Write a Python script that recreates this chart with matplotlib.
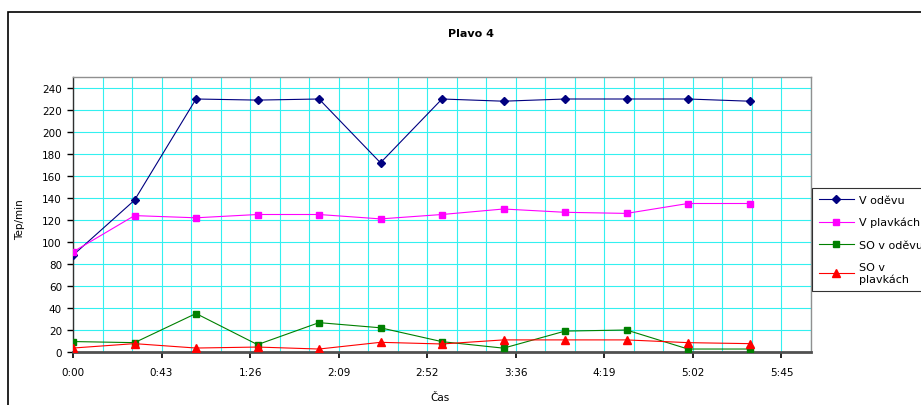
import matplotlib.pyplot as plt
from matplotlib.patches import Rectangle
from matplotlib.ticker import FuncFormatter

# time of each measurement, seconds
cas = [0, 30, 60, 90, 120, 150, 180, 210, 240, 270, 300, 330]
v_odevu = [88, 138, 230, 229, 230, 172, 230, 228, 230, 230, 230, 228]
v_plavkach = [91, 124, 122, 125, 125, 121, 125, 130, 127, 126, 135, 135]
so_v_odevu = [9.5, 8.5, 35, 6.7, 26.7, 22, 9.4, 3.5, 19, 20, 2.7, 2.7]
so_v_plavkach = [3.6, 7.6, 3.6, 4.5, 2.7, 8.8, 7.3, 11, 11, 11, 8.5, 7.6]

series = [
    ("V oděvu", v_odevu, "#000080", "D", 4),
    ("V plavkách", v_plavkach, "#FF00FF", "s", 5),
    ("SO v oděvu", so_v_odevu, "#008000", "s", 5),
    ("SO v\nplavkách", so_v_plavkach, "#FF0000", "^", 6),
]

# Excel-style time axis: major unit 43.2 s, minor unit 14.4 s
major_x = [43.2 * i for i in range(9)]
minor_x = [14.4 * i for i in range(26)]

plt.rcParams["font.family"] = ["DejaVu Sans"]

fig = plt.figure(figsize=(9.21, 4.06), dpi=100)
fig.patches.append(Rectangle((8 / 921, -0.1), 1.2, (406 - 13) / 406 + 0.1,
                             transform=fig.transFigure, fill=False,
                             edgecolor="black", linewidth=1.2))

ax = fig.add_axes([73 / 921, 53 / 406, 738 / 921, 275 / 406])

for label, values, color, marker, size in series:
    ax.plot(cas, values, color=color, marker=marker, markersize=size,
            linewidth=0.8, label=label, zorder=3)

ax.set_xlim(0, 360)
ax.set_ylim(0, 250)
ax.set_xticks(major_x)
ax.set_xticks(minor_x, minor=True)
ax.xaxis.set_major_formatter(FuncFormatter(
    lambda s, pos: "%d:%02d" % (int(s + 1e-6) // 60, int(s + 1e-6) % 60)))
ax.set_yticks(range(0, 241, 20))

ax.grid(True, which="both", axis="x", color="#33F0F0", linewidth=0.8)
ax.grid(True, which="major", axis="y", color="#33F0F0", linewidth=0.8)
ax.set_axisbelow(True)

ax.tick_params(axis="y", which="major", labelsize=7.5, length=4,
               width=1, color="black", direction="out", pad=4)
ax.tick_params(axis="x", which="major", labelsize=7.5, length=4,
               width=1.2, color="black", direction="out", pad=7)
ax.tick_params(axis="x", which="minor", length=0)

for side in ("top", "right"):
    ax.spines[side].set_color("#909090")
    ax.spines[side].set_linewidth(1)
ax.spines["bottom"].set_color("#505050")
ax.spines["bottom"].set_linewidth(2)
ax.spines["left"].set_color("#303030")
ax.spines["left"].set_linewidth(1)

fig.text(471 / 921, 1 - 34 / 406, "Plavo 4", ha="center", va="center",
         fontsize=8, fontweight="bold")
fig.text(20 / 921, 1 - 220 / 406, "Tep/min", ha="center", va="center",
         rotation=90, fontsize=7.5)
fig.text(440 / 921, 1 - 398 / 406, "Čas", ha="center", va="center",
         fontsize=7.5)

leg = ax.legend(loc="upper left", bbox_to_anchor=(812 / 921, 1 - 189 / 406),
                bbox_transform=fig.transFigure, fontsize=8, frameon=True,
                fancybox=False, edgecolor="black", borderpad=0.6,
                labelspacing=1.1, handlelength=3.2, handletextpad=0.4,
                borderaxespad=0)
leg.get_frame().set_linewidth(0.8)

plt.savefig("out.png", dpi=100)
plt.close()
